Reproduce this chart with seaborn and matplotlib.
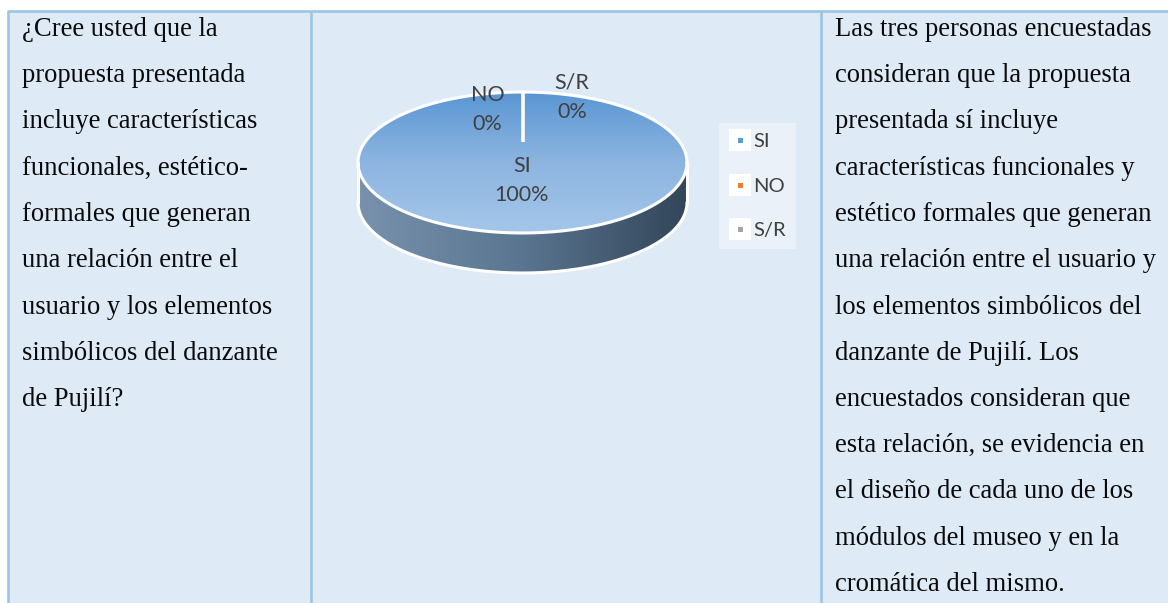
import numpy as np
import matplotlib
matplotlib.use("Agg")
import matplotlib.pyplot as plt
import seaborn as sns
from matplotlib.colors import LinearSegmentedColormap
from matplotlib.lines import Line2D
from matplotlib.legend_handler import HandlerTuple
from matplotlib.patches import Polygon, Rectangle

# Survey answers (three respondents)
categories = ["SI", "NO", "S/R"]
respondents = [3, 0, 0]
category_colors = ["#5B9BD5", "#ED7D31", "#A5A5A5"]

question_lines = [
    "¿Cree usted que la",
    "propuesta presentada",
    "incluye características",
    "funcionales, estético-",
    "formales que generan",
    "una relación entre el",
    "usuario y los elementos",
    "simbólicos del danzante",
    "de Pujilí?",
]

analysis_lines = [
    "Las tres personas encuestadas",
    "consideran que la propuesta",
    "presentada sí incluye",
    "características funcionales y",
    "estético formales que generan",
    "una relación entre el usuario y",
    "los elementos simbólicos del",
    "danzante de Pujilí. Los",
    "encuestados consideran que",
    "esta relación, se evidencia en",
    "el diseño de cada uno de los",
    "módulos del museo y en la",
    "cromática del mismo.",
]

sns.set_theme(style="white")
palette = sns.color_palette(category_colors)
plt.rcParams["font.family"] = ["Liberation Serif", "DejaVu Serif"]

W, H = 1168, 603
fig = plt.figure(figsize=(W / 100, H / 100), dpi=100)
fig.patch.set_facecolor("white")

# ---- table cell layer (pixel coordinates) ----
page = fig.add_axes([0, 0, 1, 1])
page.set_xlim(0, W)
page.set_ylim(H, 0)
page.axis("off")

cell_bg = "#DEEAF6"
rule = "#9DC3E6"
page.add_patch(Rectangle((8, 10.5), W - 8, H - 10.5, facecolor=cell_bg,
                         edgecolor="none", zorder=0))
page.plot([7, W], [10.5, 10.5], color=rule, lw=1.9, solid_capstyle="butt")
for x in (8, 311, 821):
    page.plot([x, x], [10.5, H], color=rule, lw=1.9, solid_capstyle="butt")

body_font = dict(fontsize=19.2, color="#0a0a0a", ha="left", va="baseline",
                 family=["Liberation Serif", "DejaVu Serif"])
line_step = 46.25
for i, line in enumerate(question_lines):
    page.text(22, 36 + line_step * i, line, **body_font)
for i, line in enumerate(analysis_lines):
    page.text(835, 36 + line_step * i, line, **body_font)

# ---- 3-D style pie ----
cx, cy, rx, ry, depth = 522.5, 162.5, 164.5, 70.5, 40.0
left, top, right, bottom = 340, 78, 705, 292
pie_ax = fig.add_axes([left / W, 1 - bottom / H, (right - left) / W, (bottom - top) / H])
wedges, _ = pie_ax.pie(respondents, colors=palette, startangle=90,
                       counterclock=False, wedgeprops=dict(linewidth=0))
pie_ax.set_aspect("auto")
pie_ax.set_xlim((left - cx) / rx, (right - cx) / rx)
pie_ax.set_ylim(-(bottom - cy) / ry, (cy - top) / ry)
pie_ax.axis("off")

d = depth / ry

# side wall of the disc
t = np.linspace(np.pi, 2 * np.pi, 300)
side_xy = np.concatenate([np.column_stack([np.cos(t), np.sin(t)]),
                          np.column_stack([np.cos(t[::-1]), np.sin(t[::-1]) - d])])
side_patch = Polygon(side_xy, closed=True, facecolor="none", edgecolor="none")
pie_ax.add_patch(side_patch)
side_cmap = LinearSegmentedColormap.from_list(
    "side", ["#7892AE", "#5A7590", "#33465A"])
side_img = pie_ax.imshow(np.linspace(0, 1, 256).reshape(1, -1), cmap=side_cmap,
                         extent=(-1, 1, -1 - d, 0), aspect="auto", zorder=1,
                         interpolation="bilinear")
side_img.set_clip_path(side_patch)

# top face of every slice with a vertical shading
top_cmap = LinearSegmentedColormap.from_list("top", ["#A4C6EA", "#8DB5E0", "#5A96D3"])
for w in wedges:
    w.set_zorder(2)
    if abs(w.theta2 - w.theta1) > 0:
        img = pie_ax.imshow(np.linspace(0, 1, 256).reshape(-1, 1), cmap=top_cmap,
                            extent=(-1, 1, -1, 1), origin="lower", aspect="auto",
                            zorder=3, interpolation="bilinear")
        img.set_clip_path(w)

# white rims
a = np.linspace(0, 2 * np.pi, 400)
pie_ax.plot(np.cos(a), np.sin(a), color="white", lw=2.2, zorder=4)
pie_ax.plot(np.cos(t), np.sin(t) - d, color="white", lw=2.2, zorder=4)
for sx in (-1, 1):
    pie_ax.plot([sx, sx], [0, -d], color="white", lw=2.2, zorder=4)

# slice separators
total = sum(respondents)
bounds = 90 - 360 * np.cumsum([0] + respondents) / total
for ang in np.unique(np.round(np.mod(bounds, 360), 6)):
    r = np.radians(ang)
    pie_ax.plot([np.cos(r), 0.29 * np.cos(r)], [np.sin(r), 0.29 * np.sin(r)],
                color="white", lw=2.6, zorder=4, solid_capstyle="butt")

# data labels
label_pos = {"SI": (522, 166), "NO": (487.5, 95), "S/R": (572, 82.5)}
label_font = dict(fontsize=15.5, color="#404040", ha="center", va="center",
                  family=["Lato", "DejaVu Sans"], zorder=6)
for cat, val in zip(categories, respondents):
    px, py = label_pos[cat]
    pct = 100 * val / total
    pie_ax.text((px - cx) / rx, (cy - py) / ry, cat, **label_font)
    pie_ax.text((px - cx) / rx, (cy - py - 29) / ry, f"{pct:.0f}%", **label_font)

# legend
handles = [(Line2D([], [], ls="none", marker="s", markersize=15.5, markerfacecolor="white",
                   markeredgewidth=0),
            Line2D([], [], ls="none", marker="s", markersize=3.6, markerfacecolor=c,
                   markeredgewidth=0))
           for c in palette]
leg = fig.legend(handles, categories, loc="upper left",
                 bbox_to_anchor=(719 / W, 1 - 123 / H), bbox_transform=fig.transFigure,
                 borderaxespad=0, frameon=True, fancybox=False, facecolor="#EAF1F9",
                 edgecolor="none", framealpha=1, handler_map={tuple: HandlerTuple(ndivide=1)},
                 handlelength=1.1, handletextpad=0.1, labelspacing=1.36, borderpad=0.5,
                 prop=dict(family=["Lato", "DejaVu Sans"], size=14.5))
for txt in leg.get_texts():
    txt.set_color("#404040")

fig.savefig("out.png", dpi=100, facecolor=fig.get_facecolor())
